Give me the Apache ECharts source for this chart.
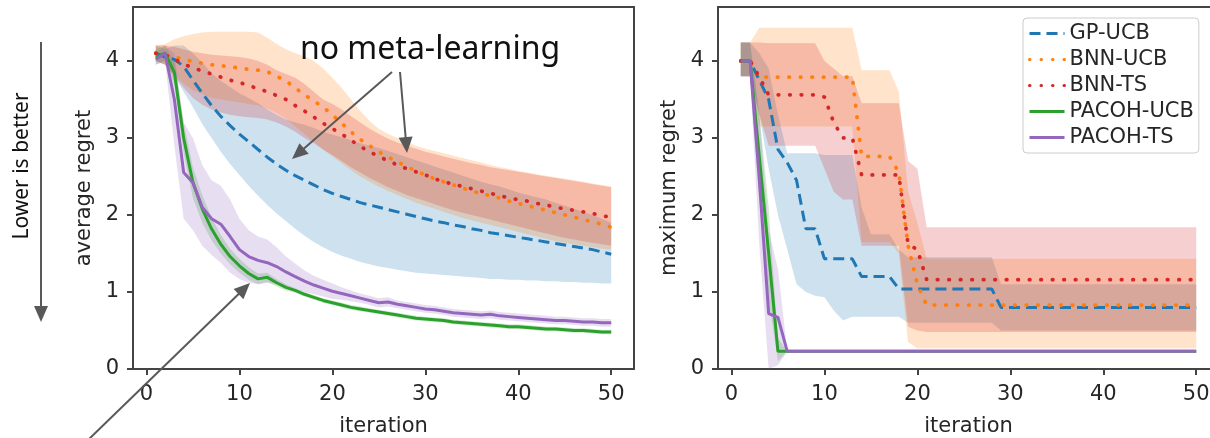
<!DOCTYPE html>
<html><head><meta charset="utf-8">
<script src="https://cdn.jsdelivr.net/npm/echarts@6/dist/echarts.min.js"></script>
<style>html,body{margin:0;padding:0;background:#fff}#chart{width:1210px;height:438px}</style>
</head><body><div id="chart"></div>
<script>
const iterations = [1,2,3,4,5,6,7,8,9,10,11,12,13,14,15,16,17,18,19,20,21,22,23,24,25,26,27,28,29,30,31,32,33,34,35,36,37,38,39,40,41,42,43,44,45,46,47,48,49,50];
const xTicks = [0,10,20,30,40,50];
const yTicks = [0,1,2,3,4];
const seriesNames = ['GP-UCB','BNN-UCB','BNN-TS','PACOH-UCB','PACOH-TS'];

// ---- average regret (left) ----
const avgGP = [4.1,4.05,4.02,3.93,3.75,3.58,3.42,3.28,3.16,3.05,2.95,2.85,2.75,2.66,2.58,2.51,2.45,2.39,2.33,2.28,2.24,2.2,2.16,2.13,2.1,2.07,2.04,2.01,1.98,1.95,1.92,1.9,1.87,1.85,1.82,1.8,1.77,1.75,1.73,1.71,1.69,1.67,1.65,1.63,1.61,1.59,1.57,1.55,1.52,1.49];
const avgGPLow = [4.0,3.95,3.8,3.6,3.4,3.18,3.0,2.82,2.66,2.52,2.38,2.25,2.13,2.02,1.92,1.82,1.73,1.65,1.58,1.52,1.47,1.43,1.39,1.36,1.33,1.31,1.29,1.27,1.25,1.24,1.23,1.22,1.21,1.2,1.19,1.18,1.17,1.17,1.16,1.16,1.15,1.15,1.14,1.14,1.13,1.13,1.12,1.12,1.11,1.11];
const avgGPUp = [4.2,4.15,4.2,4.2,4.1,3.98,3.84,3.74,3.66,3.58,3.52,3.45,3.37,3.3,3.24,3.2,3.17,3.13,3.08,3.04,3.01,2.97,2.93,2.9,2.87,2.83,2.79,2.75,2.71,2.67,2.63,2.59,2.55,2.51,2.47,2.43,2.4,2.37,2.33,2.29,2.26,2.23,2.2,2.16,2.12,2.08,2.04,2.0,1.95,1.9];
const avgBU = [4.1,4.08,4.05,4.02,3.99,3.97,3.95,3.94,3.92,3.91,3.89,3.88,3.86,3.8,3.74,3.65,3.56,3.48,3.4,3.3,3.19,3.08,2.98,2.9,2.82,2.75,2.69,2.63,2.57,2.52,2.47,2.43,2.39,2.35,2.31,2.28,2.25,2.22,2.18,2.15,2.12,2.09,2.06,2.03,2.0,1.97,1.94,1.91,1.88,1.84];
const avgBULow = [4.0,3.95,3.82,3.7,3.62,3.57,3.52,3.5,3.48,3.46,3.44,3.42,3.38,3.32,3.25,3.15,3.05,2.95,2.85,2.76,2.67,2.58,2.5,2.43,2.37,2.31,2.26,2.21,2.16,2.12,2.08,2.04,2.0,1.96,1.93,1.9,1.87,1.84,1.81,1.78,1.75,1.72,1.69,1.66,1.64,1.62,1.6,1.58,1.56,1.55];
const avgBUUp = [4.2,4.22,4.28,4.32,4.35,4.37,4.38,4.38,4.38,4.38,4.38,4.37,4.3,4.22,4.15,4.1,4.06,4.0,3.9,3.78,3.65,3.5,3.35,3.22,3.12,3.05,3.0,2.95,2.9,2.86,2.83,2.8,2.77,2.74,2.71,2.68,2.65,2.62,2.6,2.57,2.55,2.53,2.51,2.49,2.47,2.45,2.43,2.41,2.39,2.37];
const avgBT = [4.1,4.08,4.02,3.96,3.91,3.87,3.83,3.79,3.75,3.72,3.68,3.64,3.6,3.55,3.5,3.42,3.35,3.27,3.19,3.12,3.05,2.97,2.89,2.82,2.76,2.7,2.65,2.6,2.56,2.52,2.47,2.43,2.4,2.37,2.34,2.31,2.28,2.25,2.22,2.2,2.18,2.15,2.13,2.1,2.08,2.06,2.04,2.02,1.99,1.97];
const avgBTLow = [4.0,3.95,3.8,3.65,3.52,3.43,3.37,3.33,3.3,3.28,3.27,3.26,3.24,3.2,3.15,3.08,3.0,2.93,2.85,2.78,2.7,2.62,2.55,2.48,2.42,2.36,2.31,2.26,2.22,2.18,2.14,2.1,2.06,2.03,2.0,1.97,1.94,1.91,1.88,1.85,1.82,1.79,1.76,1.73,1.7,1.68,1.66,1.64,1.62,1.6];
const avgBTUp = [4.2,4.2,4.18,4.15,4.12,4.1,4.08,4.07,4.06,4.05,4.03,4.0,3.95,3.88,3.83,3.78,3.7,3.6,3.5,3.44,3.37,3.28,3.2,3.12,3.05,2.99,2.94,2.9,2.86,2.82,2.79,2.76,2.73,2.7,2.67,2.65,2.62,2.6,2.58,2.56,2.54,2.52,2.5,2.48,2.46,2.44,2.42,2.4,2.38,2.36];
const avgPU = [4.05,4.1,3.85,3.0,2.42,2.08,1.82,1.62,1.46,1.34,1.24,1.17,1.19,1.12,1.06,1.02,0.97,0.93,0.89,0.86,0.83,0.8,0.78,0.76,0.74,0.72,0.7,0.68,0.66,0.65,0.64,0.63,0.61,0.6,0.59,0.58,0.57,0.56,0.55,0.55,0.54,0.53,0.52,0.52,0.51,0.5,0.5,0.49,0.48,0.48];
const avgPULow = [3.95,4.0,3.7,2.8,2.22,1.9,1.67,1.5,1.36,1.25,1.16,1.1,1.13,1.07,1.02,0.99,0.94,0.9,0.86,0.83,0.8,0.77,0.75,0.73,0.71,0.69,0.67,0.65,0.63,0.62,0.61,0.6,0.58,0.57,0.56,0.55,0.54,0.53,0.52,0.52,0.51,0.5,0.49,0.49,0.48,0.47,0.47,0.46,0.45,0.45];
const avgPUUp = [4.15,4.2,4.0,3.2,2.62,2.26,1.97,1.74,1.56,1.43,1.32,1.24,1.25,1.17,1.1,1.05,1.0,0.96,0.92,0.89,0.86,0.83,0.81,0.79,0.77,0.75,0.73,0.71,0.69,0.68,0.67,0.66,0.64,0.63,0.62,0.61,0.6,0.59,0.58,0.58,0.57,0.56,0.55,0.55,0.54,0.53,0.53,0.52,0.51,0.51];
const avgPT = [4.02,4.1,3.5,2.55,2.42,2.1,1.95,1.88,1.72,1.55,1.46,1.41,1.38,1.33,1.26,1.2,1.14,1.09,1.05,1.01,0.98,0.95,0.92,0.89,0.86,0.87,0.84,0.82,0.8,0.78,0.77,0.75,0.73,0.72,0.71,0.7,0.71,0.69,0.68,0.67,0.66,0.65,0.64,0.63,0.63,0.62,0.61,0.61,0.6,0.6];
const avgPTLow = [3.95,4.0,2.9,1.95,1.8,1.6,1.48,1.38,1.25,1.17,1.12,1.1,1.12,1.1,1.06,1.03,1.0,0.97,0.94,0.91,0.9,0.88,0.86,0.83,0.8,0.81,0.79,0.77,0.75,0.73,0.72,0.7,0.68,0.67,0.66,0.65,0.66,0.64,0.63,0.62,0.61,0.6,0.59,0.58,0.58,0.57,0.56,0.56,0.55,0.55];
const avgPTUp = [4.1,4.2,4.1,3.2,3.0,2.65,2.45,2.38,2.2,1.95,1.8,1.72,1.68,1.58,1.46,1.37,1.28,1.21,1.16,1.11,1.06,1.02,0.98,0.95,0.92,0.93,0.89,0.87,0.85,0.83,0.82,0.8,0.78,0.77,0.76,0.75,0.76,0.74,0.73,0.72,0.71,0.7,0.69,0.68,0.68,0.67,0.66,0.66,0.65,0.65];

// ---- maximum regret (right) ----
const maxGP = [4.0,4.0,3.75,3.5,2.85,2.68,2.45,1.82,1.82,1.43,1.43,1.43,1.43,1.2,1.2,1.2,1.2,1.04,1.04,1.04,1.04,1.04,1.04,1.04,1.04,1.04,1.04,1.04,0.8,0.8,0.8,0.8,0.8,0.8,0.8,0.8,0.8,0.8,0.8,0.8,0.8,0.8,0.8,0.8,0.8,0.8,0.8,0.8,0.8,0.8];
const maxGPLow = [3.8,3.8,3.3,2.6,2.0,1.55,1.1,1.0,0.95,0.93,0.76,0.63,0.68,0.68,0.68,0.68,0.68,0.68,0.6,0.6,0.6,0.6,0.6,0.6,0.6,0.6,0.6,0.6,0.5,0.5,0.5,0.5,0.5,0.5,0.5,0.5,0.5,0.5,0.5,0.5,0.5,0.5,0.5,0.5,0.5,0.5,0.5,0.5,0.5,0.5];
const maxGPUp = [4.24,4.24,4.1,3.9,3.3,2.8,2.8,2.8,2.8,2.78,2.78,2.78,2.78,2.1,1.75,1.75,1.75,1.55,1.45,1.45,1.45,1.45,1.45,1.45,1.45,1.45,1.45,1.45,1.1,1.1,1.1,1.1,1.1,1.1,1.1,1.1,1.1,1.1,1.1,1.1,1.1,1.1,1.1,1.1,1.1,1.1,1.1,1.1,1.1,1.1];
const maxBU = [4.0,4.0,3.79,3.79,3.79,3.79,3.79,3.79,3.79,3.79,3.79,3.79,3.79,2.76,2.76,2.76,2.76,2.55,1.6,1.1,0.83,0.83,0.83,0.83,0.83,0.83,0.83,0.83,0.83,0.83,0.83,0.83,0.83,0.83,0.83,0.83,0.83,0.83,0.83,0.83,0.83,0.83,0.83,0.83,0.83,0.83,0.83,0.83,0.83,0.83];
const maxBULow = [3.8,3.8,3.15,3.15,3.15,3.15,3.15,3.15,3.15,3.15,3.15,3.15,3.15,1.65,1.65,1.65,1.65,1.5,0.35,0.27,0.27,0.27,0.27,0.27,0.27,0.27,0.27,0.27,0.27,0.27,0.27,0.27,0.27,0.27,0.27,0.27,0.27,0.27,0.27,0.27,0.27,0.27,0.27,0.27,0.27,0.27,0.27,0.27,0.27,0.27];
const maxBUUp = [4.24,4.24,4.43,4.43,4.43,4.43,4.43,4.43,4.43,4.43,4.43,4.43,4.43,3.88,3.88,3.88,3.88,3.6,2.3,1.9,1.43,1.43,1.43,1.43,1.43,1.43,1.43,1.43,1.43,1.43,1.43,1.43,1.43,1.43,1.43,1.43,1.43,1.43,1.43,1.43,1.43,1.43,1.43,1.43,1.43,1.43,1.43,1.43,1.43,1.43];
const maxBT = [4.0,4.0,3.79,3.56,3.56,3.56,3.56,3.56,3.56,3.53,3.2,3.0,3.0,2.52,2.52,2.52,2.52,2.52,1.62,1.55,1.16,1.16,1.16,1.16,1.16,1.16,1.16,1.16,1.16,1.16,1.16,1.16,1.16,1.16,1.16,1.16,1.16,1.16,1.16,1.16,1.16,1.16,1.16,1.16,1.16,1.16,1.16,1.16,1.16,1.16];
const maxBTLow = [3.8,3.8,3.3,2.9,2.9,2.9,2.9,2.9,2.9,2.6,2.3,2.2,2.2,1.6,1.6,1.6,1.6,1.6,0.55,0.5,0.48,0.48,0.48,0.48,0.48,0.48,0.48,0.48,0.48,0.48,0.48,0.48,0.48,0.48,0.48,0.48,0.48,0.48,0.48,0.48,0.48,0.48,0.48,0.48,0.48,0.48,0.48,0.48,0.48,0.48];
const maxBTUp = [4.24,4.24,4.24,4.23,4.23,4.23,4.23,4.23,4.23,4.0,3.9,3.8,3.8,3.45,3.45,3.45,3.45,3.45,2.7,2.6,1.84,1.84,1.84,1.84,1.84,1.84,1.84,1.84,1.84,1.84,1.84,1.84,1.84,1.84,1.84,1.84,1.84,1.84,1.84,1.84,1.84,1.84,1.84,1.84,1.84,1.84,1.84,1.84,1.84,1.84];
const maxPU = [4.0,4.0,2.75,1.5,0.23,0.23,0.23,0.23,0.23,0.23,0.23,0.23,0.23,0.23,0.23,0.23,0.23,0.23,0.23,0.23,0.23,0.23,0.23,0.23,0.23,0.23,0.23,0.23,0.23,0.23,0.23,0.23,0.23,0.23,0.23,0.23,0.23,0.23,0.23,0.23,0.23,0.23,0.23,0.23,0.23,0.23,0.23,0.23,0.23,0.23];
const maxPULow = [3.8,3.8,2.2,0.9,0.1,0.23,0.23,0.23,0.23,0.23,0.23,0.23,0.23,0.23,0.23,0.23,0.23,0.23,0.23,0.23,0.23,0.23,0.23,0.23,0.23,0.23,0.23,0.23,0.23,0.23,0.23,0.23,0.23,0.23,0.23,0.23,0.23,0.23,0.23,0.23,0.23,0.23,0.23,0.23,0.23,0.23,0.23,0.23,0.23,0.23];
const maxPUUp = [4.24,4.24,3.3,2.1,0.4,0.23,0.23,0.23,0.23,0.23,0.23,0.23,0.23,0.23,0.23,0.23,0.23,0.23,0.23,0.23,0.23,0.23,0.23,0.23,0.23,0.23,0.23,0.23,0.23,0.23,0.23,0.23,0.23,0.23,0.23,0.23,0.23,0.23,0.23,0.23,0.23,0.23,0.23,0.23,0.23,0.23,0.23,0.23,0.23,0.23];
const maxPT = [4.0,4.0,2.45,0.72,0.67,0.23,0.23,0.23,0.23,0.23,0.23,0.23,0.23,0.23,0.23,0.23,0.23,0.23,0.23,0.23,0.23,0.23,0.23,0.23,0.23,0.23,0.23,0.23,0.23,0.23,0.23,0.23,0.23,0.23,0.23,0.23,0.23,0.23,0.23,0.23,0.23,0.23,0.23,0.23,0.23,0.23,0.23,0.23,0.23,0.23];
const maxPTLow = [3.8,3.8,1.6,0.0,0.05,0.23,0.23,0.23,0.23,0.23,0.23,0.23,0.23,0.23,0.23,0.23,0.23,0.23,0.23,0.23,0.23,0.23,0.23,0.23,0.23,0.23,0.23,0.23,0.23,0.23,0.23,0.23,0.23,0.23,0.23,0.23,0.23,0.23,0.23,0.23,0.23,0.23,0.23,0.23,0.23,0.23,0.23,0.23,0.23,0.23];
const maxPTUp = [4.24,4.24,3.3,1.8,1.3,0.23,0.23,0.23,0.23,0.23,0.23,0.23,0.23,0.23,0.23,0.23,0.23,0.23,0.23,0.23,0.23,0.23,0.23,0.23,0.23,0.23,0.23,0.23,0.23,0.23,0.23,0.23,0.23,0.23,0.23,0.23,0.23,0.23,0.23,0.23,0.23,0.23,0.23,0.23,0.23,0.23,0.23,0.23,0.23,0.23];

const colors = ['#1f77b4','#ff7f0e','#d62728','#2ca02c','#9467bd'];
const lineTypes = [[11,6],[0.5,11],[0.5,11],'solid','solid'];
const FONT = 'DejaVu Sans';
const TXT = '#262626';
const BAND_ALPHA = 0.22;

function rgba(hex, a){
  const n = parseInt(hex.slice(1),16);
  return 'rgba(' + ((n>>16)&255) + ',' + ((n>>8)&255) + ',' + (n&255) + ',' + a + ')';
}

const groups = [
  {grid:0, mean:[avgGP,avgBU,avgBT,avgPU,avgPT], low:[avgGPLow,avgBULow,avgBTLow,avgPULow,avgPTLow], up:[avgGPUp,avgBUUp,avgBTUp,avgPUUp,avgPTUp]},
  {grid:1, mean:[maxGP,maxBU,maxBT,maxPU,maxPT], low:[maxGPLow,maxBULow,maxBTLow,maxPULow,maxPTLow], up:[maxGPUp,maxBUUp,maxBTUp,maxPUUp,maxPTUp]}
];

const pairs = arr => iterations.map((x,i)=>[x, arr[i]]);
const series = [];
groups.forEach(g => {
  seriesNames.forEach((name, k) => {
    const bandData = iterations.map((x,i)=>[x, g.low[k][i], g.up[k][i]]);
    const fill = rgba(colors[k], BAND_ALPHA);
    series.push({
      type:'custom', name: name + ' band', xAxisIndex:g.grid, yAxisIndex:g.grid,
      data: bandData, encode:{x:0, y:[1,2]}, silent:true, z:1,
      renderItem: function(params, api){
        if (params.dataIndex !== 0) return null;
        const top = bandData.map(d => api.coord([d[0], d[2]]));
        const bot = bandData.map(d => api.coord([d[0], d[1]])).reverse();
        return {type:'polygon', shape:{points: top.concat(bot)}, style:{fill: fill}};
      }
    });
  });
  seriesNames.forEach((name, k) => {
    series.push({
      type:'line', name:name, xAxisIndex:g.grid, yAxisIndex:g.grid,
      data: pairs(g.mean[k]), symbol:'none', showSymbol:false, z:3,
      itemStyle:{color:colors[k]},
      lineStyle:{color:colors[k], width: (k===1||k===2) ? 3.8 : 3, type: lineTypes[k], cap: (k===1||k===2)?'round':'butt'}
    });
  });
});

function xAxisCfg(idx){
  return {
    type:'value', gridIndex:idx, min:-1.45, max:52.45,
    name:'iteration', nameLocation:'middle', nameGap:47,
    nameTextStyle:{fontFamily:FONT, fontSize:21, color:TXT},
    axisLine:{show:true, onZero:false, lineStyle:{color:'#444', width:2}},
    axisTick:{show:true, inside:false, length:6, lineStyle:{color:'#444', width:2}, customValues:xTicks},
    axisLabel:{fontFamily:FONT, fontSize:21, color:TXT, margin:15, customValues:xTicks},
    splitLine:{show:false}
  };
}
function yAxisCfg(idx, name){
  return {
    type:'value', gridIndex:idx, min:0, max:4.7,
    name:name, nameLocation:'middle', nameGap:38, nameRotate:90,
    nameTextStyle:{fontFamily:FONT, fontSize:21, color:TXT},
    axisLine:{show:true, onZero:false, lineStyle:{color:'#444', width:2}},
    axisTick:{show:true, inside:false, length:6, lineStyle:{color:'#444', width:2}, customValues:yTicks},
    axisLabel:{fontFamily:FONT, fontSize:21, color:TXT, margin:14, customValues:yTicks},
    splitLine:{show:false}
  };
}

function arrowEls(x1,y1,x2,y2,w,hl,hw,color){
  const dx=x2-x1, dy=y2-y1, L=Math.hypot(dx,dy), ux=dx/L, uy=dy/L;
  const bx=x2-ux*hl, by=y2-uy*hl;
  return [
    {type:'line', z:100, shape:{x1:x1,y1:y1,x2:bx+ux*2,y2:by+uy*2}, style:{stroke:color, lineWidth:w}},
    {type:'polygon', z:100, shape:{points:[[x2,y2],[bx-uy*hw,by+ux*hw],[bx+uy*hw,by-ux*hw]]}, style:{fill:color}}
  ];
}
const ARW = '#595959';
const graphic = [
  {type:'text', z:100, x:430, y:50, style:{text:'no meta-learning', font:'32px "Noto Sans"', fill:'#111', align:'center', verticalAlign:'middle'}},
  {type:'text', z:100, x:22, y:166, rotation:Math.PI/2, style:{text:'Lower is better', font:'21px "Noto Sans"', fill:'#111', align:'center', verticalAlign:'middle'}},
  ...arrowEls(392,72,292,159,2,16,7,ARW),
  ...arrowEls(400,72,407,153,2,16,7,ARW),
  ...arrowEls(88,440,250,283,2,16,7,ARW),
  ...arrowEls(41,42,41,322,2,16,7,ARW)
];

const chart = echarts.init(document.getElementById('chart'), null, {renderer:'canvas'});
chart.setOption({
  animation:false,
  backgroundColor:'#fff',
  grid:[
    {left:133, top:7, width:501, height:362, show:true, borderColor:'#444', borderWidth:2, backgroundColor:'transparent', outerBoundsMode:'none', containLabel:false},
    {left:718, top:7, width:501, height:362, show:true, borderColor:'#444', borderWidth:2, backgroundColor:'transparent', outerBoundsMode:'none', containLabel:false}
  ],
  xAxis:[xAxisCfg(0), xAxisCfg(1)],
  yAxis:[yAxisCfg(0,'average regret'), yAxisCfg(1,'maximum regret')],
  legend:{
    data:seriesNames, orient:'vertical', left:1023, top:18,
    itemWidth:35, itemHeight:14, itemGap:5, padding:[5,5,5,5],
    itemStyle:{opacity:0},
    lineStyle:{width:3},
    backgroundColor:'#fff', borderColor:'#ccc', borderWidth:1, borderRadius:4,
    textStyle:{fontFamily:FONT, fontSize:21, color:TXT, lineHeight:20}
  },
  graphic: graphic,
  series: series
});
</script>
</body></html>
